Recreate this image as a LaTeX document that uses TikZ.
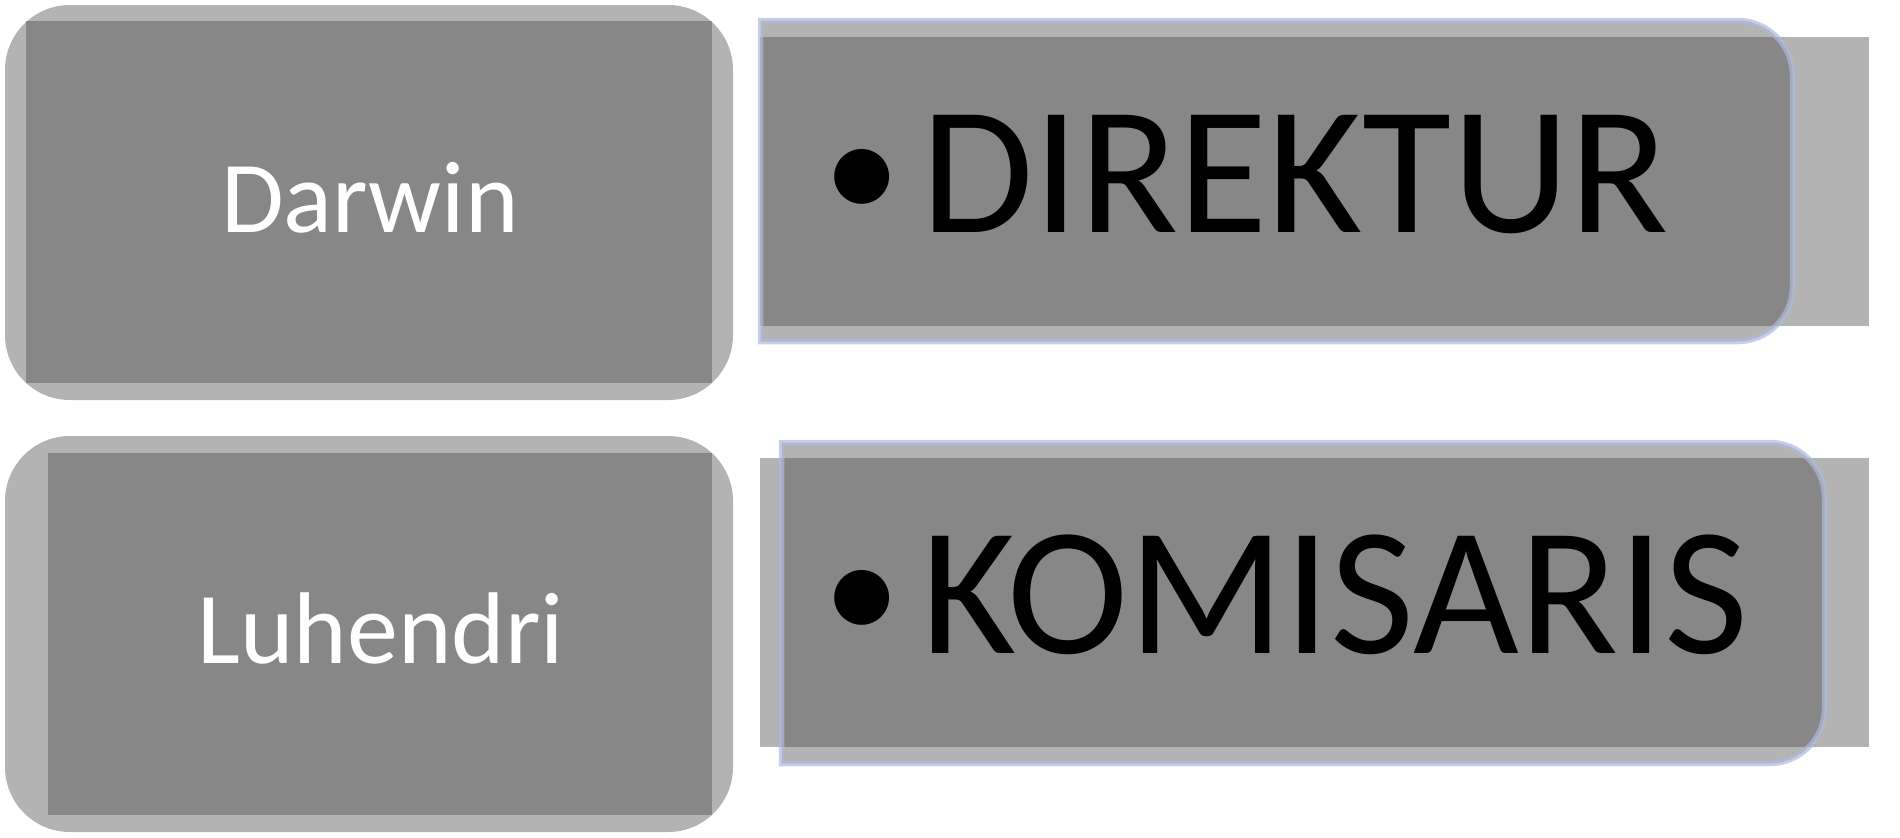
\documentclass[tikz,border=0pt]{standalone}
\usepackage{fontspec}
\setmainfont{Carlito}
\usetikzlibrary{positioning}
\definecolor{glassgray}{RGB}{76,74,75}
\definecolor{rimblue}{RGB}{175,185,222}
\tikzset{
  glass/.style={fill=glassgray, fill opacity=0.42},
  rimline/.style={draw=rimblue, draw opacity=0.7, line width=0.055cm},
  person/.style={text=white, font=\fontsize{29}{34}\selectfont, anchor=base, inner sep=0pt},
  post/.style={text=black, font=\fontsize{52}{60}\selectfont, anchor=base west, inner sep=0pt}
}
\newcommand{\postbullet}{\raisebox{0.12cm}{\scalebox{0.85}{•}}\hspace{0.2cm}}

\begin{document}
\begin{tikzpicture}
\useasboundingbox (0,0) rectangle (19,-8.37);
% names on the left
\fill[glass, rounded corners=0.65cm] (0.05,-0.05) rectangle (7.33,-4.00);
\fill[glass] (0.26,-0.21) rectangle (7.12,-3.83);
\node[person] (darwin) at (3.70,-2.32) {Darwin};
\fill[glass, rounded corners=0.65cm] (0.05,-4.36) rectangle (7.33,-8.32);
\fill[glass] (0.48,-4.53) rectangle (7.12,-8.15);
\node[person] (luhendri) at (3.81,-6.63) {Luhendri};
% posts on the right
\fill[glass] (7.60,-0.37) rectangle (18.69,-3.26);
\draw[glass, rimline] (7.605,-0.205) -- (17.375,-0.205) arc[start angle=90, end angle=0, radius=0.55]
  -- (17.925,-2.865) arc[start angle=0, end angle=-90, radius=0.55] -- (7.605,-3.415) -- cycle;
\node[post] (direktur) at (8.23,-2.32) {\postbullet DIREKTUR};
\fill[glass] (7.60,-4.58) rectangle (18.69,-7.47);
\draw[glass, rimline] (7.815,-4.425) -- (17.695,-4.425) arc[start angle=90, end angle=0, radius=0.55]
  -- (18.245,-7.085) arc[start angle=0, end angle=-90, radius=0.55] -- (7.815,-7.635) -- cycle;
\node[post] (komisaris) at (8.23,-6.53) {\postbullet KOMISARIS};
\end{tikzpicture}
\end{document}
